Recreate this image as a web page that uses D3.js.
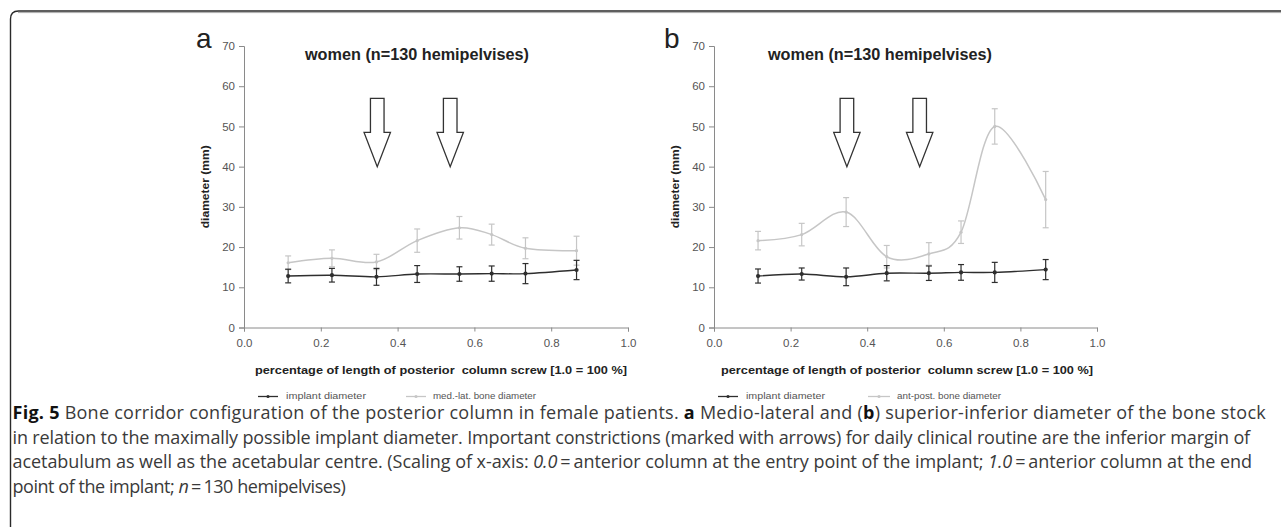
<!DOCTYPE html>
<html>
<head>
<meta charset="utf-8">
<script src="https://cdn.jsdelivr.net/npm/d3@7"></script>
<style>
  body { margin: 0; background: #fff; }
  svg { display: block; }
  text { font-family: "Liberation Sans", Arial, sans-serif; }
</style>
</head>
<body>
<svg id="fig" width="1281" height="527"></svg>
<script>
// Data
const xPos = [0.115, 0.229, 0.345, 0.451, 0.561, 0.645, 0.733, 0.866];

const implantA = [12.8, 13.0, 12.6, 13.3, 13.3, 13.4, 13.4, 14.3];
const implantErrA = [1.7, 1.7, 2.1, 2.1, 1.8, 1.9, 2.5, 2.4];
const medLat = [16.1, 17.2, 16.3, 21.6, 24.8, 23.1, 19.7, 19.1];
const medLatErr = [1.7, 2.1, 1.9, 2.9, 2.8, 2.6, 2.6, 3.6];

const implantB = [12.8, 13.3, 12.6, 13.5, 13.5, 13.7, 13.7, 14.4];
const implantErrB = [1.75, 1.5, 2.2, 1.9, 1.8, 1.95, 2.5, 2.5];
const antPost = [21.6, 23.1, 28.7, 17.6, 18.3, 23.7, 50.0, 31.8];
const antPostErr = [2.3, 2.8, 3.6, 2.8, 2.8, 2.8, 4.4, 7.0];

// arrows marking constrictions: x position, top, head base, tip (data units)
const arrowX = [0.347, 0.537];
const arrowY = [57, 48.5, 40];

const xTicks = [0, 0.2, 0.4, 0.6, 0.8, 1.0];
const yTicks = [0, 10, 20, 30, 40, 50, 60, 70];

const panelTitle = 'women (n=130 hemipelvises)';
const xTitle = 'percentage of length of posterior\u00a0 column screw [1.0 = 100 %]';
const yTitle = 'diameter (mm)';

const svg = d3.select('#fig');

// Frame
svg.append('path')
    .attr('d', 'M10.5,527 L10.5,19 Q10.5,11 18.5,11 L1281,11')
    .attr('fill', 'none')
    .attr('stroke', '#2a2a2a')
    .attr('stroke-width', 1.4);
svg.append('line')
    .attr('x1', 18).attr('x2', 1281).attr('y1', 12.6).attr('y2', 12.6)
    .attr('stroke', '#aaa').attr('stroke-width', 1);

function drawPanel(opt) {
    const x = d3.scaleLinear().domain([0, 1]).range(opt.xRange);
    const y = d3.scaleLinear().domain([0, 70]).range([327.5, 46]);
    const g = svg.append('g');

    // axes
    const yAxis = g.append('g')
        .attr('transform', `translate(${opt.xRange[0]},0)`)
        .call(d3.axisLeft(y).tickValues(yTicks).tickSize(5).tickPadding(4));
    const xAxis = g.append('g')
        .attr('transform', `translate(0,${y(0)})`)
        .call(d3.axisBottom(x).tickValues(xTicks).tickFormat(d3.format('.1f')).tickSize(4).tickPadding(7));
    [xAxis, yAxis].forEach(a => {
        a.selectAll('path, line').attr('stroke', '#8a8a8a');
        a.selectAll('text').attr('fill', '#555').style('font-size', '11.5px')
            .style('font-family', '"Liberation Sans", Arial, sans-serif');
    });

    // titles
    g.append('text')
        .attr('x', opt.titleX).attr('y', 60)
        .attr('text-anchor', 'middle')
        .attr('font-weight', 'bold')
        .attr('font-size', 16)
        .attr('fill', '#222')
        .attr('textLength', 224)
        .attr('lengthAdjust', 'spacingAndGlyphs')
        .text(panelTitle);
    g.append('text')
        .attr('x', opt.xTitleX).attr('y', 374)
        .attr('text-anchor', 'middle')
        .attr('font-weight', 'bold')
        .attr('font-size', 11.5)
        .attr('fill', '#222')
        .attr('textLength', 372)
        .attr('lengthAdjust', 'spacingAndGlyphs')
        .text(xTitle);
    g.append('text')
        .attr('transform', `translate(${opt.yTitleX},${y(35)}) rotate(-90)`)
        .attr('text-anchor', 'middle')
        .attr('font-weight', 'bold')
        .attr('font-size', 10.5)
        .attr('fill', '#222')
        .attr('textLength', 83)
        .attr('lengthAdjust', 'spacingAndGlyphs')
        .text(yTitle);
    g.append('text')
        .attr('x', opt.labelX).attr('y', 48)
        .attr('font-size', 28)
        .attr('fill', '#222')
        .text(opt.label);

    // arrows
    const hs = 6.8, hh = 13.2;
    arrowX.forEach(ax => {
        const cx = x(ax);
        const pts = [
            [cx - hs, y(arrowY[0])], [cx + hs, y(arrowY[0])],
            [cx + hs, y(arrowY[1])], [cx + hh, y(arrowY[1])],
            [cx, y(arrowY[2])],
            [cx - hh, y(arrowY[1])], [cx - hs, y(arrowY[1])]
        ];
        g.append('path')
            .attr('d', 'M' + pts.join('L') + 'Z')
            .attr('fill', '#fff')
            .attr('stroke', '#333')
            .attr('stroke-width', 1.3)
            .attr('stroke-linejoin', 'miter');
    });

    const line = d3.line()
        .x(d => x(d.x)).y(d => y(d.v))
        .curve(d3.curveCardinal.tension(0));

    function series(vals, errs, color, width, r) {
        const data = vals.map((v, i) => ({ x: xPos[i], v: v, e: errs[i] }));
        const s = g.append('g');
        s.append('path')
            .attr('d', line(data))
            .attr('fill', 'none')
            .attr('stroke', color)
            .attr('stroke-width', width);
        const eb = s.selectAll('g.eb').data(data).enter().append('g');
        eb.append('line')
            .attr('x1', d => x(d.x)).attr('x2', d => x(d.x))
            .attr('y1', d => y(d.v - d.e)).attr('y2', d => y(d.v + d.e))
            .attr('stroke', color).attr('stroke-width', 1.2);
        [-1, 1].forEach(sg => {
            eb.append('line')
                .attr('x1', d => x(d.x) - 3).attr('x2', d => x(d.x) + 3)
                .attr('y1', d => y(d.v + sg * d.e)).attr('y2', d => y(d.v + sg * d.e))
                .attr('stroke', color).attr('stroke-width', 1.2);
        });
        eb.append('circle')
            .attr('cx', d => x(d.x)).attr('cy', d => y(d.v))
            .attr('r', r).attr('fill', color);
    }
    series(opt.light, opt.lightErr, '#c6c6c6', 1.5, 1.6);
    series(opt.dark, opt.darkErr, '#2e2e2e', 1.4, 2.1);

    // legend
    opt.legend.forEach(item => {
        g.append('line')
            .attr('x1', item.x0).attr('x2', item.x1).attr('y1', 396.5).attr('y2', 396.5)
            .attr('stroke', item.color).attr('stroke-width', 1.3);
        g.append('circle')
            .attr('cx', (item.x0 + item.x1) / 2).attr('cy', 396.5)
            .attr('r', 1.6).attr('fill', item.color);
        g.append('text')
            .attr('x', item.tx).attr('y', 399.2)
            .attr('font-size', 9)
            .attr('fill', '#555')
            .attr('textLength', item.tw)
            .attr('lengthAdjust', 'spacingAndGlyphs')
            .text(item.text);
    });
}

drawPanel({
    xRange: [244, 628], titleX: 417, xTitleX: 441, yTitleX: 209, labelX: 196, label: 'a',
    dark: implantA, darkErr: implantErrA, light: medLat, lightErr: medLatErr,
    legend: [
        { x0: 258, x1: 278, color: '#2e2e2e', tx: 286, tw: 80, text: 'implant diameter' },
        { x0: 406, x1: 426, color: '#c6c6c6', tx: 433, tw: 103, text: 'med.-lat. bone diameter' }
    ]
});
drawPanel({
    xRange: [714, 1097], titleX: 880, xTitleX: 907, yTitleX: 679, labelX: 664, label: 'b',
    dark: implantB, darkErr: implantErrB, light: antPost, lightErr: antPostErr,
    legend: [
        { x0: 718, x1: 738, color: '#2e2e2e', tx: 746, tw: 79, text: 'implant diameter' },
        { x0: 868, x1: 890, color: '#c6c6c6', tx: 897, tw: 104, text: 'ant-post. bone diameter' }
    ]
});

// Caption
const captionLines = [
    [['Fig. 5', 'b'], [' Bone corridor configuration of the posterior column in female patients. '], ['a', 'b'],
     [' Medio-lateral and ('], ['b', 'b'], [') superior-inferior diameter of the bone stock']],
    [['in relation to the maximally possible implant diameter. Important constrictions (marked with arrows) for daily clinical routine are the inferior margin of']],
    [['acetabulum as well as the acetabular centre. (Scaling of x-axis: '], ['0.0', 'i'], ['\u2009=\u2009anterior column at the entry point of the implant; '],
     ['1.0', 'i'], ['\u2009=\u2009anterior column at the end']],
    [['point of the implant; '], ['n', 'i'], ['\u2009=\u2009130 hemipelvises)']]
];
// where each caption line ends in the reference (null = natural width)
const captionEnds = [1266, 1250, 1252, null];
const capSize = 18;
const cap = svg.append('g').attr('fill', '#3a3a3a');
captionLines.forEach((parts, i) => {
    const t = cap.append('text')
        .attr('x', 12.5).attr('y', 419 + i * 24.7)
        .style('font-family', '"Open Sans", "Noto Sans", sans-serif')
        .attr('font-size', capSize);
    parts.forEach(p => {
        const ts = t.append('tspan').text(p[0]);
        if (p[1] === 'b') ts.attr('font-weight', 'bold').attr('fill', '#111');
        if (p[1] === 'i') ts.attr('font-style', 'italic');
    });
    const n = parts.reduce((s, p) => s + p[0].length, 0);
    if (captionEnds[i]) {
        const natural = t.node().getComputedTextLength();
        const ls = (captionEnds[i] - 12.5 - natural) / n;
        t.style('letter-spacing', ls + 'px');
    } else {
        t.style('letter-spacing', '-0.45px');
    }
});
</script>
</body>
</html>
